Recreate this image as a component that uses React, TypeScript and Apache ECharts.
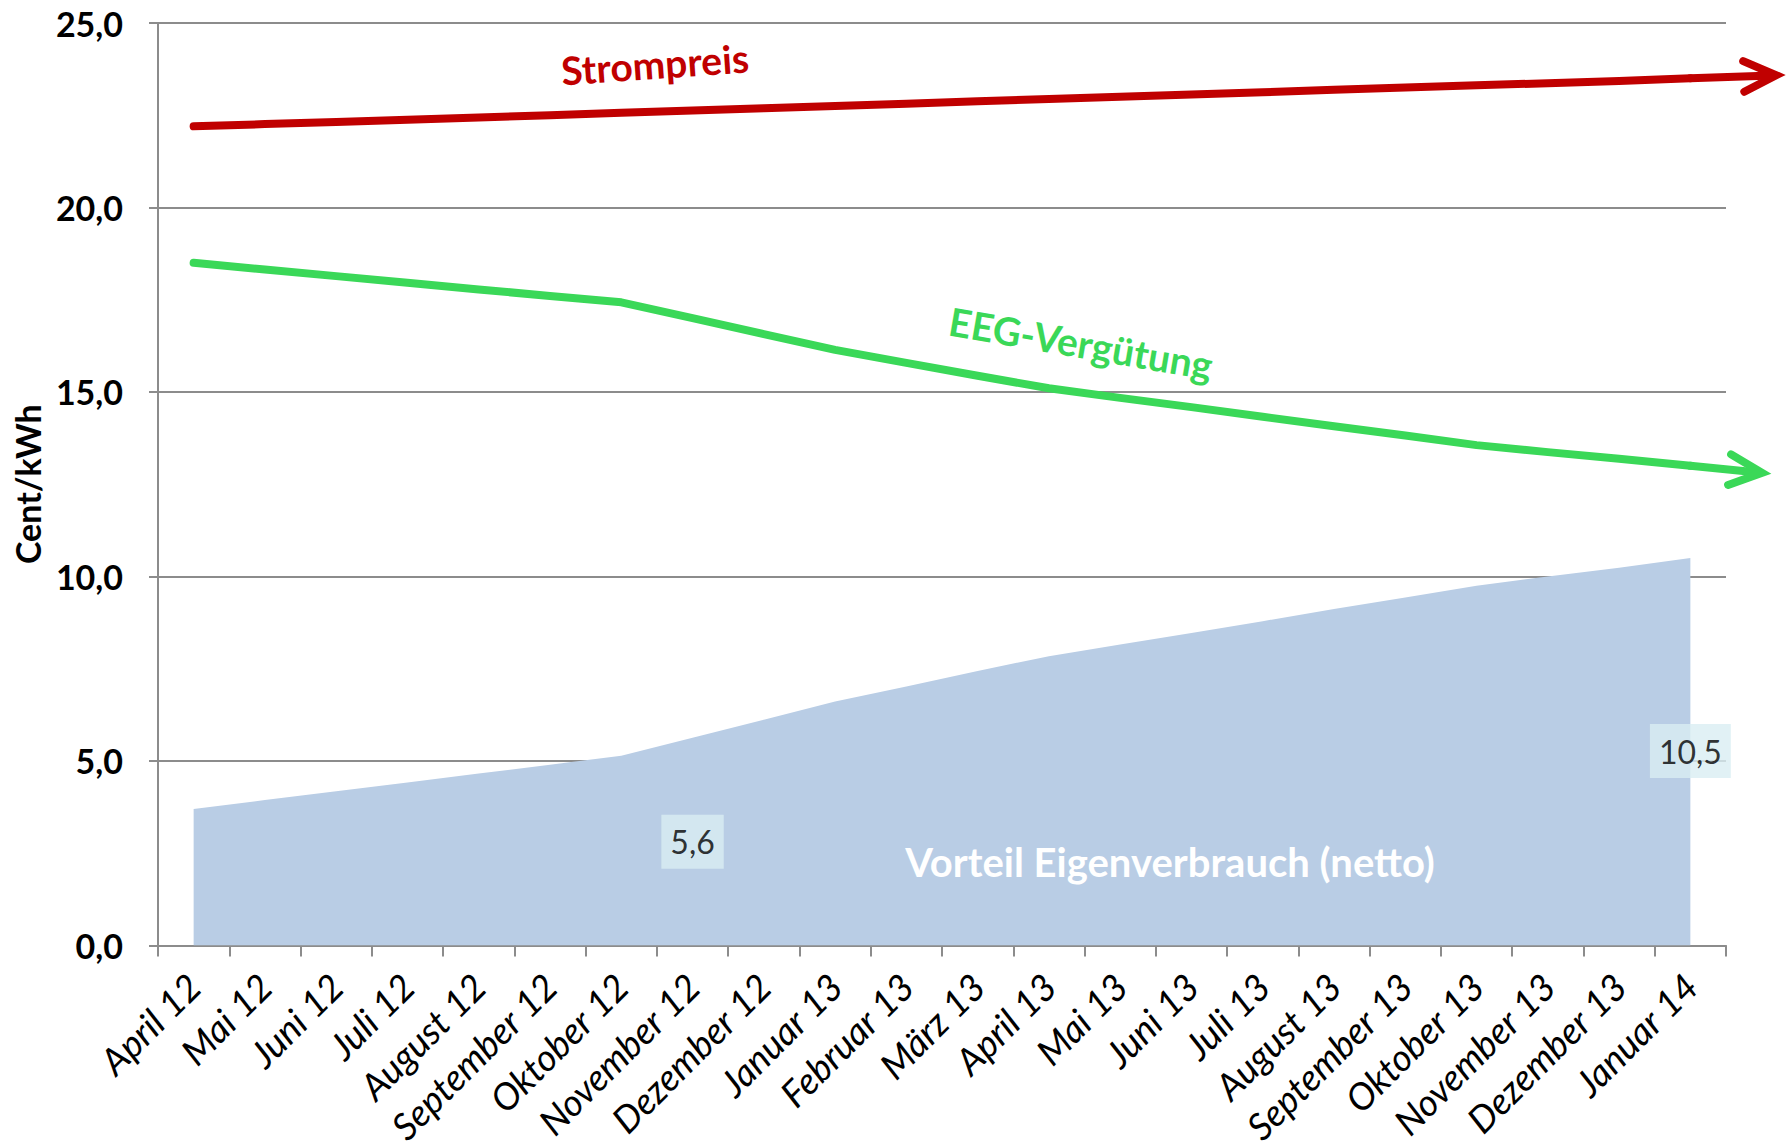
import React, { useEffect, useRef } from 'react';
import * as echarts from 'echarts';

const categories = [
  'April 12', 'Mai 12', 'Juni 12', 'Juli 12', 'August 12', 'September 12', 'Oktober 12',
  'November 12', 'Dezember 12', 'Januar 13', 'Februar 13', 'März 13', 'April 13', 'Mai 13',
  'Juni 13', 'Juli 13', 'August 13', 'September 13', 'Oktober 13', 'November 13', 'Dezember 13', 'Januar 14',
];

const strompreis = [
  22.2, 22.26, 22.32, 22.38, 22.44, 22.5, 22.57, 22.63, 22.69, 22.75, 22.81,
  22.88, 22.94, 23.0, 23.06, 23.12, 23.19, 23.25, 23.31, 23.37, 23.43, 23.5,
];

const eegVerguetung = [
  18.5, 18.32, 18.14, 17.96, 17.78, 17.6, 17.43, 17.0, 16.57, 16.14, 15.79,
  15.44, 15.1, 14.84, 14.59, 14.33, 14.07, 13.82, 13.56, 13.37, 13.19, 13.0,
];

const vorteil = [
  3.7, 3.94, 4.18, 4.42, 4.66, 4.9, 5.14, 5.63, 6.12, 6.61, 7.02,
  7.44, 7.84, 8.16, 8.47, 8.79, 9.12, 9.43, 9.75, 10.0, 10.24, 10.5,
];

const labeledIndices = [7, 21];

const yMin = 0;
const yMax = 25;
const yInterval = 5;

const RED = '#C00000';
const GREEN = '#3AD858';
const AREA = '#B9CDE5';
const GRID = '#8C8C8C';
const FONT = 'Lato, "Open Sans", sans-serif';

const fmt = (v: number) => v.toFixed(1).replace('.', ',');

export default function App() {
  const ref = useRef<HTMLDivElement>(null);

  useEffect(() => {
    if (!ref.current) return;
    const chart = echarts.init(ref.current, undefined, { renderer: 'svg' });
    const labelOffsets = [104, 193];

    const option: any = {
      animation: false,
      backgroundColor: '#ffffff',
      grid: { left: 158, right: 61, top: 23, bottom: 199, containLabel: false },
      xAxis: {
        type: 'category',
        data: categories,
        boundaryGap: true,
        axisLine: { show: true, lineStyle: { color: GRID, width: 2 } },
        axisTick: { show: true, interval: 0, length: 11, lineStyle: { color: GRID, width: 2 } },
        axisLabel: {
          interval: 0,
          rotate: 45,
          fontFamily: FONT,
          fontStyle: 'italic',
          fontSize: 37,
          color: '#000',
          margin: 34,
        },
        splitLine: { show: false },
      },
      yAxis: {
        type: 'value',
        min: yMin,
        max: yMax,
        interval: yInterval,
        name: 'Cent/kWh',
        nameLocation: 'middle',
        nameRotate: 90,
        nameGap: 114,
        nameTextStyle: { fontFamily: FONT, fontWeight: 'bold', fontSize: 34, color: '#000' },
        axisLine: { show: true, lineStyle: { color: GRID, width: 2 } },
        axisTick: { show: true, length: 9, lineStyle: { color: GRID, width: 2 } },
        axisLabel: {
          formatter: fmt,
          fontFamily: FONT,
          fontWeight: 'bold',
          fontSize: 34,
          color: '#000',
          margin: 35,
        },
        splitLine: { show: true, lineStyle: { color: GRID, width: 2 } },
      },
      series: [
        {
          name: 'Vorteil Eigenverbrauch (netto)',
          type: 'line',
          data: vorteil,
          symbol: 'none',
          lineStyle: { width: 0 },
          areaStyle: { color: AREA, opacity: 1 },
          z: 1,
        },
        {
          name: 'EEG-Vergütung',
          type: 'line',
          data: eegVerguetung,
          symbol: 'none',
          lineStyle: { color: GREEN, width: 8, cap: 'round', join: 'round' },
          z: 3,
        },
        {
          name: 'Strompreis',
          type: 'line',
          data: strompreis,
          symbol: 'none',
          lineStyle: { color: RED, width: 8, cap: 'round', join: 'round' },
          z: 3,
        },
        {
          type: 'scatter',
          silent: true,
          symbolSize: 1,
          itemStyle: { color: 'rgba(0,0,0,0)' },
          data: labeledIndices.map((i, k) => ({
            value: [i, vorteil[i]],
            label: { offset: [0, labelOffsets[k]] },
          })),
          label: {
            show: true,
            position: 'inside',
            formatter: (p: any) => fmt(p.value[1]),
            fontFamily: FONT,
            fontSize: 32,
            color: '#000',
            backgroundColor: '#DAEEF3',
            padding: [8, 9, 8, 9],
            lineHeight: 38,
          },
          z: 5,
        },
      ],
    };

    chart.setOption(option);

    const arrow = (data: number[], color: string, len: number) => {
      const n = data.length;
      const a = chart.convertToPixel({ xAxisIndex: 0, yAxisIndex: 0 }, [n - 2, data[n - 2]]) as number[];
      const b = chart.convertToPixel({ xAxisIndex: 0, yAxisIndex: 0 }, [n - 1, data[n - 1]]) as number[];
      const dx = b[0] - a[0];
      const dy = b[1] - a[1];
      const d = Math.hypot(dx, dy);
      const ux = dx / d;
      const uy = dy / d;
      const tip = [b[0] + ux * len, b[1] + uy * len];
      const arm = 36;
      const ang = 0.44;
      const rot = (x: number, y: number, t: number) => [x * Math.cos(t) - y * Math.sin(t), x * Math.sin(t) + y * Math.cos(t)];
      const r1 = rot(-ux, -uy, ang);
      const r2 = rot(-ux, -uy, -ang);
      return [
        {
          type: 'line',
          shape: { x1: b[0], y1: b[1], x2: tip[0] - ux * 4, y2: tip[1] - uy * 4 },
          style: { stroke: color, lineWidth: 8, lineCap: 'round' },
          z: 10,
        },
        {
          type: 'polyline',
          shape: {
            points: [
              [tip[0] + r1[0] * arm, tip[1] + r1[1] * arm],
              tip,
              [tip[0] + r2[0] * arm, tip[1] + r2[1] * arm],
            ],
          },
          style: { stroke: color, lineWidth: 8, lineCap: 'round', lineJoin: 'miter', fill: 'none' },
          z: 10,
        },
      ];
    };

    chart.setOption({
      graphic: [
        ...arrow(strompreis, RED, 86),
        ...arrow(eegVerguetung, GREEN, 72),
        {
          type: 'text',
          x: 655,
          y: 64,
          rotation: 0.07,
          style: {
            text: 'Strompreis',
            font: `bold 39px ${FONT}`,
            fill: RED,
            align: 'center',
            verticalAlign: 'middle',
          },
          z: 20,
        },
        {
          type: 'text',
          x: 1081,
          y: 343,
          rotation: -0.17,
          style: {
            text: 'EEG-Vergütung',
            font: `bold 39px ${FONT}`,
            fill: GREEN,
            align: 'center',
            verticalAlign: 'middle',
          },
          z: 20,
        },
        {
          type: 'text',
          x: 1170,
          y: 862,
          style: {
            text: 'Vorteil Eigenverbrauch (netto)',
            font: `bold 40px ${FONT}`,
            fill: '#ffffff',
            align: 'center',
            verticalAlign: 'middle',
          },
          z: 20,
        },
      ],
    });

    return () => chart.dispose();
  }, []);

  return (
    <div
      ref={ref}
      style={{ position: 'absolute', left: 0, top: 0, width: 1787, height: 1148 }}
    />
  );
}
